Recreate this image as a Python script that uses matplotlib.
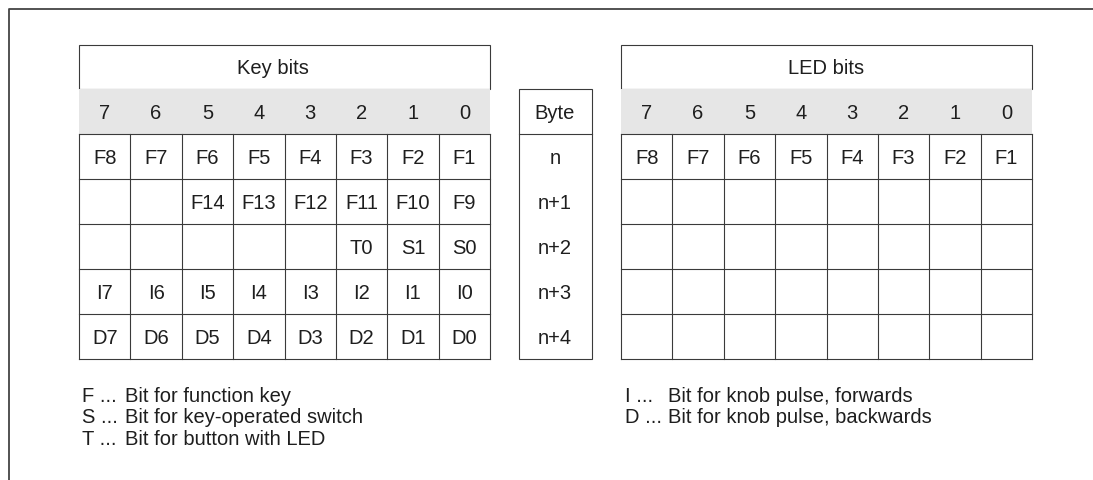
import matplotlib.pyplot as plt
from matplotlib.patches import Rectangle

plt.rcParams["font.family"] = ["Liberation Sans", "DejaVu Sans"]

bits = ["7", "6", "5", "4", "3", "2", "1", "0"]
key_rows = [
    ["F8", "F7", "F6", "F5", "F4", "F3", "F2", "F1"],
    ["", "", "F14", "F13", "F12", "F11", "F10", "F9"],
    ["", "", "", "", "", "T0", "S1", "S0"],
    ["I7", "I6", "I5", "I4", "I3", "I2", "I1", "I0"],
    ["D7", "D6", "D5", "D4", "D3", "D2", "D1", "D0"],
]
byte_labels = ["n", "n+1", "n+2", "n+3", "n+4"]
led_rows = [
    ["F8", "F7", "F6", "F5", "F4", "F3", "F2", "F1"],
    [""] * 8,
    [""] * 8,
    [""] * 8,
    [""] * 8,
]
legend_left = [("F ...", "Bit for function key"),
               ("S ...", "Bit for key-operated switch"),
               ("T ...", "Bit for button with LED")]
legend_right = [("I ...", "Bit for knob pulse, forwards"),
                ("D ...", "Bit for knob pulse, backwards")]

W, H = 1093, 481
fig = plt.figure(figsize=(W / 100, H / 100), dpi=100)
ax = fig.add_axes([0, 0, 1, 1])
ax.set_xlim(0, W)
ax.set_ylim(H, 0)
ax.axis("off")

LC = "#3a3a3a"
TC = "#1e1e1e"
GRAY = "#e6e6e6"
FS = 14.5
LW = 0.8

# page frame (left and top edges only)
ax.plot([8.5, 8.5, W], [H, 9.5, 9.5], color="#444444", lw=1.3, solid_capstyle="butt")

top, title_h, row_h = 46, 44, 45
hdr_top = top + title_h
grid_top = hdr_top + row_h
n_rows = len(key_rows)
grid_bot = grid_top + n_rows * row_h


def draw_table(x0, x1, title, title_x, rows):
    cw = (x1 - x0) / len(bits)
    # title box
    ax.add_patch(Rectangle((x0, top), x1 - x0, title_h, fill=False, ec=LC, lw=LW))
    ax.text(title_x, top + title_h / 2 + 6.5, title, ha="center", va="baseline",
            fontsize=FS, color=TC)
    # gray header with bit numbers
    ax.add_patch(Rectangle((x0, hdr_top), x1 - x0, row_h, fc=GRAY, ec="none"))
    for i, b in enumerate(bits):
        ax.text(x0 + (i + 0.5) * cw, hdr_top + row_h / 2 + 6.5, b, ha="center",
                va="baseline", fontsize=FS, color=TC)
    # data grid
    for r in range(n_rows + 1):
        ax.plot([x0, x1], [grid_top + r * row_h] * 2, color=LC, lw=LW)
    for c in range(len(bits) + 1):
        ax.plot([x0 + c * cw] * 2, [grid_top, grid_bot], color=LC, lw=LW)
    for r, row in enumerate(rows):
        for c, lab in enumerate(row):
            ax.text(x0 + (c + 0.5) * cw, grid_top + (r + 0.5) * row_h + 6.5, lab,
                    ha="center", va="baseline", fontsize=FS, color=TC)


draw_table(79, 490, "Key bits", 273, key_rows)
draw_table(621, 1032, "LED bits", 826, led_rows)

# byte column
bx0, bx1 = 518.5, 591.5
ax.add_patch(Rectangle((bx0, hdr_top), bx1 - bx0, grid_bot - hdr_top, fill=False, ec=LC, lw=LW))
ax.plot([bx0, bx1], [grid_top] * 2, color=LC, lw=LW)
ax.text((bx0 + bx1) / 2, hdr_top + row_h / 2 + 6.5, "Byte", ha="center", va="baseline",
        fontsize=FS, color=TC)
for r, lab in enumerate(byte_labels):
    ax.text((bx0 + bx1) / 2, grid_top + (r + 0.5) * row_h + 6.5, lab, ha="center",
            va="baseline", fontsize=FS, color=TC)

# legends
for i, (k, desc) in enumerate(legend_left):
    y = 402 + i * 21.5
    ax.text(82, y, k, ha="left", va="baseline", fontsize=FS, color=TC)
    ax.text(125, y, desc, ha="left", va="baseline", fontsize=FS, color=TC)
for i, (k, desc) in enumerate(legend_right):
    y = 402 + i * 21.5
    ax.text(625, y, k, ha="left", va="baseline", fontsize=FS, color=TC)
    ax.text(668, y, desc, ha="left", va="baseline", fontsize=FS, color=TC)

fig.savefig("out.png", dpi=100)
